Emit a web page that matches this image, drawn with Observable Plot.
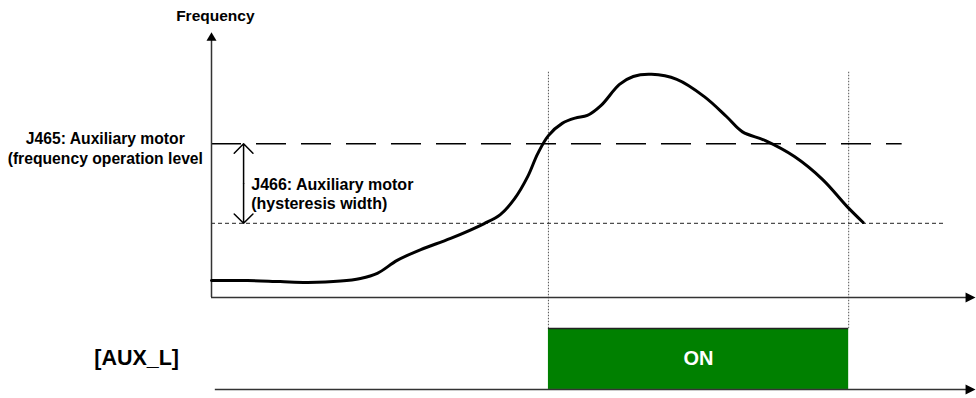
<!DOCTYPE html>
<html>
<head>
<meta charset="utf-8">
<script src="https://cdn.jsdelivr.net/npm/d3@7"></script>
<script src="https://cdn.jsdelivr.net/npm/@observablehq/plot@0.6"></script>
<style>
  html, body { margin: 0; padding: 0; background: #fff; }
  #chart svg { display: block; }
</style>
</head>
<body>
<div id="chart"></div>
<script>
// ---- data (time and frequency in arbitrary units) ----
const time = [0, 4.7, 9.0, 12.6, 16.9, 19.5, 21.7, 24.3, 27.4, 31.3, 35.7, 37.8, 39.7, 41.4, 42.7, 44.1, 45.9, 47.6, 49.2, 51.0, 53.4, 55.2, 57.6, 60.9, 64.5, 67.4, 69.5, 72.5, 76.3, 80.0, 83.2, 85.3];
const frequency = [6.4, 6.4, 6.0, 5.7, 6.2, 7.2, 9.1, 14.0, 18.1, 22.3, 27.9, 31.3, 37.4, 45.7, 54.3, 61.1, 65.7, 67.7, 68.7, 72.5, 80.4, 83.4, 84.2, 82.3, 75.8, 68.3, 62.5, 59.2, 53.2, 44.5, 34.3, 28.3];

const operationLevel = 58;      // J465
const hysteresisLevel = 28;     // J465 - J466
const levelLineEnd = [90.4, 95.9];
const onStart = 44.1;
const onEnd = 83.4;
const signalLow = -34.7;        // baseline of [AUX_L] signal
const signalHigh = -11.7;       // ON level
const timeAxisEnd = 100;
const freqAxisEnd = 100;

const axisTitle = "Frequency";
const levelLabel = "J465: Auxiliary motor\n(frequency operation level";
const widthLabel = "J466: Auxiliary motor\n(hysteresis width)";
const signalLabel = "[AUX_L]";
const onLabel = "ON";

// ---- derived tables ----
const curve = time.map((t, i) => ({t, f: frequency[i]}));
const arrowRight = {
  draw(ctx, size) {
    const r = Math.sqrt(size / Math.PI);
    ctx.moveTo(r, 0); ctx.lineTo(-r, -r); ctx.lineTo(-r, r); ctx.closePath();
  }
};
const arrowUp = {
  draw(ctx, size) {
    const r = Math.sqrt(size / Math.PI);
    ctx.moveTo(0, -r); ctx.lineTo(-r, r * 0.7); ctx.lineTo(r, r * 0.7); ctx.closePath();
  }
};
const hx = 4.2, hmid = (operationLevel + hysteresisLevel) / 2;

const chart = Plot.plot({
  width: 976,
  height: 398,
  marginTop: 0, marginRight: 0, marginBottom: 0, marginLeft: 0,
  x: {domain: [0, timeAxisEnd], range: [211, 975], axis: null},
  y: {domain: [0, freqAxisEnd], range: [297, 32], axis: null},
  style: {fontFamily: "'Liberation Sans', Arial, sans-serif", background: "#fff"},
  marks: [
    // green ON bar
    Plot.rect([{a: onStart, b: onEnd, lo: signalLow, hi: signalHigh}], {x1: "a", x2: "b", y1: "lo", y2: "hi", fill: "#008000"}),
    Plot.ruleY([{y: signalHigh, a: onStart, b: onEnd}], {y: "y", x1: "a", x2: "b", stroke: "#222", strokeWidth: 1.5}),
    // vertical dotted guides
    Plot.ruleX([onStart, onEnd], {x: d => d, y1: () => 85, y2: () => signalHigh, stroke: "#555", strokeWidth: 1, strokeDasharray: "1.5,1.5"}),
    // level lines
    Plot.ruleY([{y: operationLevel, e: levelLineEnd[0]}], {y: "y", x1: () => 0, x2: "e", stroke: "#000", strokeWidth: 1.5, strokeDasharray: "30,15"}),
    Plot.ruleY([{y: hysteresisLevel, e: levelLineEnd[1]}], {y: "y", x1: () => 0, x2: "e", stroke: "#222", strokeWidth: 1, strokeDasharray: "4,3"}),
    // axes
    Plot.ruleY([{y: 0}], {y: "y", x1: () => 0, x2: () => 99, stroke: "#333", strokeWidth: 1.5}),
    Plot.ruleY([{y: signalLow}], {y: "y", x1: () => 0.5, x2: () => 99, stroke: "#333", strokeWidth: 1.5}),
    Plot.ruleX([{x: 0}], {x: "x", y1: () => 0, y2: () => 97, stroke: "#333", strokeWidth: 1.5}),
    Plot.dot([{x: 99.35, y: 0}, {x: 99.35, y: signalLow}], {x: "x", y: "y", symbol: arrowRight, r: 5, fill: "#000", stroke: "none"}),
    Plot.dot([{x: 0, y: 98.2}], {x: "x", y: "y", symbol: arrowUp, r: 5, fill: "#000", stroke: "none"}),
    // hysteresis double arrow
    Plot.arrow([{y2: operationLevel}, {y2: hysteresisLevel}], {x1: () => hx, x2: () => hx, y1: () => hmid, y2: "y2", stroke: "#000", strokeWidth: 1.5, headAngle: 90, headLength: 14}),
    // frequency curve
    Plot.line(curve, {x: "t", y: "f", curve: "catmull-rom", stroke: "#000", strokeWidth: 3}),
    // texts
    Plot.text([axisTitle], {x: () => 0.5, y: () => 106.4, text: d => d, fontSize: 15.5, fontWeight: "bold", fill: "#000"}),
    Plot.text([levelLabel], {x: () => -13.9, y: () => 56.6, text: d => d, fontSize: 15.7, fontWeight: "bold", lineHeight: 1.3, fill: "#000"}),
    Plot.text([widthLabel], {x: () => 5.2, y: () => 39.4, text: d => d, fontSize: 16, fontWeight: "bold", lineHeight: 1.22, textAnchor: "start", fill: "#000"}),
    Plot.text([signalLabel], {x: () => -9.8, y: () => -23.0, text: d => d, fontSize: 21.5, fontWeight: "bold", fill: "#000"}),
    Plot.text([onLabel], {x: () => (onStart + onEnd) / 2, y: () => (signalLow + signalHigh) / 2, text: d => d, fontSize: 20, fontWeight: "bold", fill: "#fff"})
  ]
});
document.getElementById("chart").appendChild(chart);
</script>
</body>
</html>
